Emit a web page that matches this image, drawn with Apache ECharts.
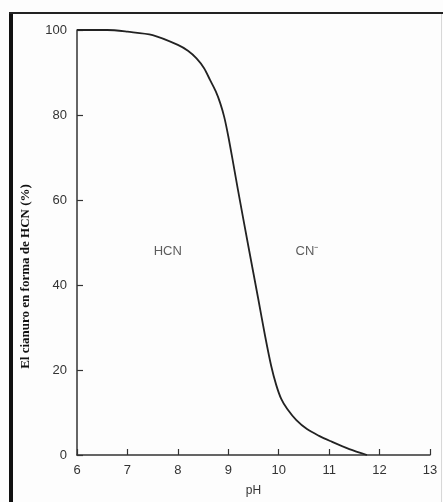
<!DOCTYPE html>
<html>
<head>
<meta charset="utf-8">
<script src="https://cdn.jsdelivr.net/npm/echarts@6/dist/echarts.min.js"></script>
<style>
  html, body { margin: 0; padding: 0; background: #fff; }
  #chart { width: 443px; height: 502px; }
</style>
</head>
<body>
<div id="chart"></div>
<script>
// Fraction of cyanide present as HCN versus pH
const phValues = [6, 6.6, 7, 7.5, 8, 8.2, 8.37, 8.52, 8.64, 8.75, 8.84, 8.92, 9.0, 9.1, 9.19, 9.4, 9.59, 9.73, 9.85, 9.95, 10.05, 10.17, 10.35, 10.56, 10.8, 11.02, 11.4, 11.75];
const hcnPercent = [100, 100, 99.6, 98.8, 96.5, 95.1, 93.3, 91, 88.2, 85.6, 82.8, 79.5, 75, 68.5, 62.5, 49, 37, 28, 21, 16.5, 13.2, 10.8, 8.2, 6.1, 4.5, 3.3, 1.4, 0];

// Region labels: name, pH position, percent position
const regionNames = ['HCN', 'CN\u207B'];
const regionPh = [7.8, 10.56];
const regionPct = [48, 48];

const xTicks = [6, 7, 8, 9, 10, 11, 12, 13];
const yTicks = [0, 20, 40, 60, 80, 100];

const chart = echarts.init(document.getElementById('chart'));

const curve = phValues.map((p, i) => [p, hcnPercent[i]]);
const regions = regionNames.map((n, i) => ({ value: [regionPh[i], regionPct[i]], name: n }));

const textColor = '#333';

chart.setOption({
  animation: false,
  backgroundColor: '#fdfdfd',
  grid: { left: 77, right: 13, top: 30, bottom: 46 },
  xAxis: {
    type: 'value',
    min: xTicks[0],
    max: xTicks[xTicks.length - 1],
    interval: 1,
    name: 'pH',
    nameLocation: 'middle',
    nameGap: 30,
    nameTextStyle: { fontFamily: 'Liberation Sans', fontSize: 12, color: textColor },
    axisLine: { lineStyle: { color: '#333', width: 1.5 } },
    axisTick: { inside: true, length: 6, lineStyle: { color: '#333', width: 1.2 } },
    axisLabel: { fontFamily: 'Liberation Sans', fontSize: 13, color: textColor, margin: 9 },
    splitLine: { show: false }
  },
  yAxis: {
    type: 'value',
    min: yTicks[0],
    max: yTicks[yTicks.length - 1],
    interval: 20,
    name: 'El cianuro en forma de HCN (%)',
    nameLocation: 'middle',
    nameGap: 45,
    nameTextStyle: { fontFamily: 'Liberation Serif', fontWeight: 'bold', fontSize: 13, color: '#111', padding: [0, 0, 0, -68] },
    axisLine: { show: true, lineStyle: { color: '#333', width: 1.5 } },
    axisTick: { inside: true, length: 6, lineStyle: { color: '#333', width: 1.2 } },
    axisLabel: { fontFamily: 'Liberation Sans', fontSize: 13, color: textColor, margin: 10 },
    splitLine: { show: false }
  },
  graphic: [
    { type: 'rect', shape: { x: 9, y: 12, width: 4, height: 490 }, style: { fill: '#111' } },
    { type: 'rect', shape: { x: 9, y: 12, width: 434, height: 2 }, style: { fill: '#222' } },
    { type: 'rect', shape: { x: 441, y: 14, width: 1, height: 488 }, style: { fill: '#d8d8d8' } }
  ],
  series: [
    {
      type: 'line',
      data: curve,
      smooth: 0.3,
      showSymbol: false,
      lineStyle: { color: '#222', width: 1.8 }
    },
    {
      type: 'scatter',
      data: regions,
      symbolSize: 0,
      label: {
        show: true,
        position: 'inside',
        formatter: p => p.name,
        fontFamily: 'Liberation Sans',
        fontSize: 13,
        color: textColor
      }
    }
  ]
});
</script>
</body>
</html>
